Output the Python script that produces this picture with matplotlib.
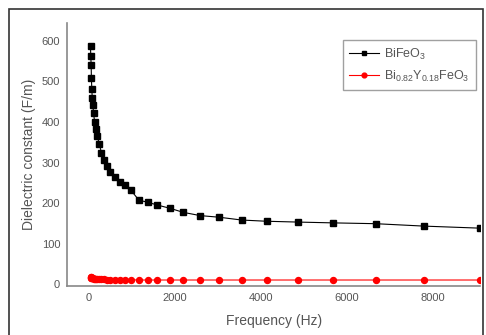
import matplotlib
matplotlib.use("Agg")
import matplotlib.pyplot as plt
from matplotlib.patches import Rectangle

plt.rcParams["font.family"] = ["Liberation Sans", "DejaVu Sans"]
plt.rcParams["mathtext.fontset"] = "custom"
plt.rcParams["mathtext.rm"] = "Liberation Sans"
plt.rcParams["mathtext.it"] = "Liberation Sans"

# Frequency (Hz)
freq = [45, 50, 60, 65, 75, 85, 100, 115, 140, 165, 200, 250, 300, 355,
        425, 505, 605, 720, 855, 980, 1170, 1370, 1600, 1890, 2200, 2590,
        3030, 3560, 4140, 4860, 5680, 6670, 7800, 9090]

# Dielectric constant (F/m)
bifeo3 = [588, 563, 541, 509, 481, 460, 442, 422, 401, 383, 365, 346, 323,
          306, 291, 277, 265, 253, 244, 232, 207, 202, 195, 187, 177, 169,
          165, 158, 155, 153, 151, 149, 143, 138]

biyfeo3 = [18, 17, 16, 15.5, 15, 14.5, 14, 13.5, 13, 12.5, 12, 12, 11.5,
           11.5, 11, 11, 11, 10.5, 10.5, 10.5, 10, 10, 10, 10, 10, 10, 10,
           10, 10, 10, 10, 10, 10, 10]

grey = "#555555"

fig = plt.figure(figsize=(4.86, 3.35), dpi=100)
ax = fig.add_axes([0.138, 0.146, 0.850, 0.785])

ax.plot(freq, bifeo3, color="black", linewidth=0.8, marker="s",
        markersize=4.3, label=r"BiFeO$_3$")
ax.plot(freq, biyfeo3, color="red", linewidth=0.8, marker="o",
        markersize=4.3, label=r"Bi$_{0.82}$Y$_{0.18}$FeO$_3$")

ax.set_xlim(-500, 9100)
ax.set_ylim(-5, 644)
ax.set_xticks([0, 2000, 4000, 6000, 8000])
ax.set_yticks([0, 100, 200, 300, 400, 500, 600])

for side in ["top", "right"]:
    ax.spines[side].set_visible(False)
for side in ["left", "bottom"]:
    ax.spines[side].set_color("#888888")
    ax.spines[side].set_linewidth(1.2)

ax.tick_params(length=0, labelsize=8, labelcolor=grey, pad=5)

ax.set_xlabel("Frequency (Hz)", fontsize=10, color=grey, labelpad=8)
ax.set_ylabel("Dielectric constant (F/m)", fontsize=10, color=grey, labelpad=4)

leg = ax.legend(loc="upper right", bbox_to_anchor=(0.99, 0.935),
                borderaxespad=0, fontsize=9, markerscale=0.8, fancybox=False,
                edgecolor="#888888", handlelength=2.4, labelcolor=grey,
                borderpad=0.5, labelspacing=0.55, handletextpad=0.4)
leg.get_frame().set_linewidth(1.0)

# outer frame of the picture
fig.patches.append(Rectangle((9 / 486, -0.05), 474 / 486, 0.05 + 326 / 335,
                             transform=fig.transFigure, fill=False,
                             edgecolor="#333333", linewidth=1.2))

fig.savefig("out.png", dpi=100)
